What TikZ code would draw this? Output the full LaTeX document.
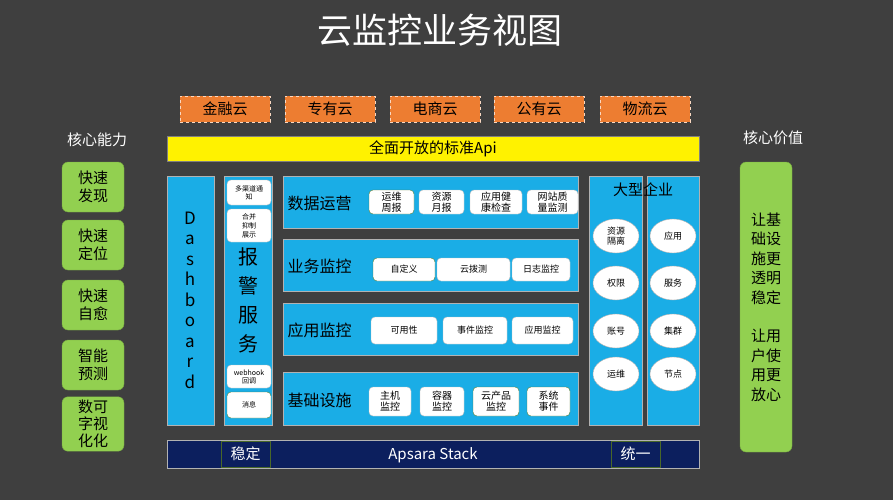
\documentclass[tikz,border=0pt]{standalone}
\usepackage{fontspec}
\setmainfont{Noto Sans CJK SC}
\usetikzlibrary{shapes.geometric}
\definecolor{bg}{HTML}{3F3F3F}
\definecolor{blu}{HTML}{1AADE6}
\definecolor{org}{HTML}{ED7D31}
\definecolor{grn}{HTML}{92D050}
\definecolor{nav}{HTML}{0C1F5E}
\tikzset{
 col/.style={fill=blu,draw=gray!60,line width=0.6pt},
 wb/.style={fill=white,draw=gray!50,rounded corners=4pt,align=center,inner sep=0pt,font=\fontsize{9}{10}\selectfont},
 gb/.style={fill=grn,draw=grn!80!black,rounded corners=6pt,align=center,font=\fontsize{15}{18}\selectfont},
 ob/.style={fill=org,draw=white!70!org,dashed,font=\fontsize{15}{16}\selectfont},
 ell/.style={ellipse,fill=white,draw=gray!60,minimum width=46pt,minimum height=34pt,inner sep=0pt,align=center,font=\fontsize{9}{10}\selectfont},
 lab/.style={font=\fontsize{16}{18}\selectfont,anchor=west},
}
\newcommand{\bx}[6]{\node[#1,minimum width=#4-#2,minimum height=#5-#3] (#6) at ({(#2+#4)/2},{(#3+#5)/2})}
\begin{document}
\begin{tikzpicture}[x=1pt,y=-1pt]
\fill[bg] (0,0) rectangle (893,500);
\useasboundingbox (0,0) rectangle (893,500);
\node[white,font=\fontsize{35}{36}\selectfont] (title) at (440,30) {云监控业务视图};
% top clouds
\bx{ob}{180}{96}{270}{122}{c1} {金融云};
\bx{ob}{285}{96}{375}{122}{c2} {专有云};
\bx{ob}{390}{96}{480}{122}{c3} {电商云};
\bx{ob}{494}{96}{584}{122}{c4} {公有云};
\bx{ob}{600}{96}{690}{122}{c5} {物流云};
\bx{fill=yellow,draw=gray,font=\fontsize{15}{16}\selectfont}{167}{136}{699}{161}{api} {全面开放的标准Api};
% left
\node[white,font=\fontsize{15}{16}\selectfont] (nl) at (97,140) {核心能力};
\bx{gb}{62}{162}{124}{212}{g1} {快速\\发现};
\bx{gb}{62}{220}{124}{270}{g2} {快速\\定位};
\bx{gb}{62}{280}{124}{330}{g3} {快速\\自愈};
\bx{gb}{62}{340}{124}{390}{g4} {智能\\预测};
\bx{gb,font=\fontsize{15}{17}\selectfont}{62}{398}{124}{450}{g5} {数可\\字视\\化化};
\node[white,font=\fontsize{15}{16}\selectfont] (nr) at (773,138) {核心价值};
\bx{gb,font=\fontsize{15}{19.5}\selectfont}{740}{162}{792}{452}{gv} {让基\\础设\\施更\\透明\\稳定\\[19pt]让用\\户使\\用更\\放心};
% dashboard
\bx{col}{167}{176}{214}{425}{dash} {};
\node[align=center,font=\fontsize{17}{20.5}\selectfont] (dt) at (190,300) {D\\a\\s\\h\\b\\o\\a\\r\\d};
\bx{col}{224}{176}{272}{425}{alarm} {};
\node[align=center,font=\fontsize{20}{29}\selectfont] (at) at (248,300) {报\\警\\服\\务};
\bx{wb,font=\fontsize{7}{8}\selectfont}{227}{180}{271}{205}{a1} {多渠道通\\知};
\bx{wb,font=\fontsize{7}{9}\selectfont}{227}{209}{271}{242}{a2} {合并\\抑制\\展示};
\bx{wb,font=\fontsize{7}{8}\selectfont}{227}{365}{271}{388}{a3} {webhook\\回调};
\bx{wb,draw=grn!60!black,font=\fontsize{7}{8}\selectfont}{227}{392}{271}{418}{a4} {消息};
% rows
\bx{col}{283}{176}{578}{228}{r1} {};
\bx{col}{283}{239}{578}{291}{r2} {};
\bx{col}{283}{303}{578}{355}{r3} {};
\bx{col}{283}{372}{578}{425}{r4} {};
\node[lab] (l1) at (284,203) {数据运营};
\node[lab] (l2) at (284,266) {业务监控};
\node[lab] (l3) at (284,330) {应用监控};
\node[lab] (l4) at (284,400) {基础设施};
\bx{wb,draw=grn!60!black,font=\fontsize{10}{11}\selectfont}{369}{190}{414}{214}{b1} {运维\\周报};
\bx{wb,font=\fontsize{10}{11}\selectfont}{419}{190}{464}{214}{b2} {资源\\月报};
\bx{wb,font=\fontsize{10}{11}\selectfont}{470}{190}{522}{214}{b3} {应用健\\康检查};
\bx{wb,font=\fontsize{10}{11}\selectfont}{527}{190}{578}{214}{b4} {网站质\\量监测};
\bx{wb,draw=grn!60!black}{373}{258}{435}{281}{b5} {自定义};
\bx{wb}{437}{258}{510}{281}{b6} {云拨测};
\bx{wb}{512}{258}{570}{281}{b7} {日志监控};
\bx{wb}{371}{317}{437}{344}{b8} {可用性};
\bx{wb}{443}{317}{507}{344}{b9} {事件监控};
\bx{wb}{512}{317}{573}{344}{b10} {应用监控};
\bx{wb,font=\fontsize{10}{11}\selectfont}{369}{387}{411}{416}{b11} {主机\\监控};
\bx{wb,font=\fontsize{10}{11}\selectfont}{420}{387}{464}{416}{b12} {容器\\监控};
\bx{wb,draw=grn!60!black,font=\fontsize{10}{11}\selectfont}{473}{387}{519}{416}{b13} {云产品\\监控};
\bx{wb,draw=grn!60!black,font=\fontsize{10}{11}\selectfont}{527}{387}{570}{416}{b14} {系统\\事件};
% enterprise
\bx{col}{589}{176}{642}{425}{e1} {};
\bx{col}{647}{176}{699}{425}{e2} {};
\node[font=\fontsize{15}{16}\selectfont] (et) at (643,190) {大型企业};
\node[ell] (p1) at (616,236) {资源\\隔离};
\node[ell] (p2) at (616,283) {权限};
\node[ell] (p3) at (616,331) {账号};
\node[ell] (p4) at (616,374) {运维};
\node[ell] (q1) at (673,236) {应用};
\node[ell] (q2) at (673,283) {服务};
\node[ell] (q3) at (673,331) {集群};
\node[ell] (q4) at (673,374) {节点};
% bottom
\bx{fill=nav,draw=gray!60}{167}{440}{699}{468}{bot} {};
\node[white,font=\fontsize{15}{16}\selectfont] (aps) at (433,455) {Apsara Stack};
\bx{draw=grn!50!black,text=white,font=\fontsize{15}{16}\selectfont}{221}{441}{270}{467}{s1} {稳定};
\bx{draw=grn!50!black,text=white,font=\fontsize{15}{16}\selectfont}{611}{441}{660}{467}{s2} {统一};
\end{tikzpicture}
\end{document}
